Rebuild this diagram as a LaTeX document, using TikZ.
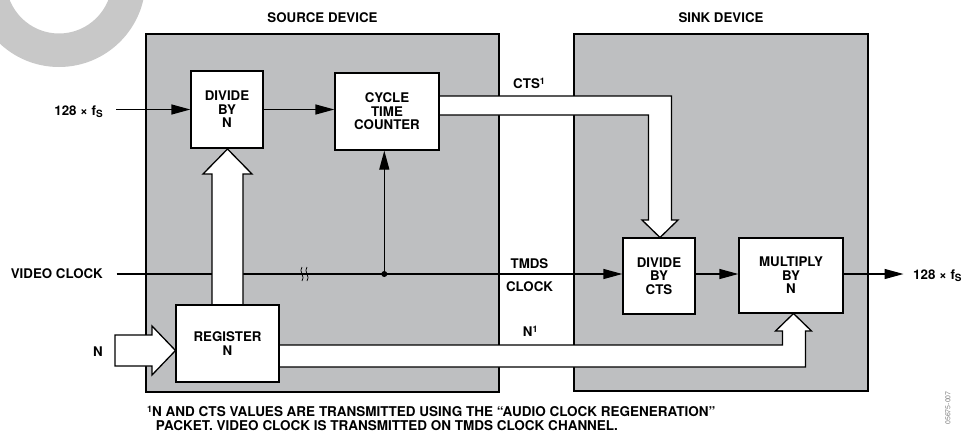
\documentclass[tikz,border=0pt]{standalone}
\usepackage{fontspec}
\setmainfont{TeX Gyre Heros}
\usetikzlibrary{arrows.meta}
\definecolor{devgray}{RGB}{190,191,193}
\definecolor{ringgray}{RGB}{200,200,200}
\pgfdeclarelayer{bg}
\pgfdeclarelayer{fg}
\pgfsetlayers{bg,main,fg}
\newcommand\lbl{\fontsize{13.3}{13.4}\selectfont\bfseries}
\newcommand\fnfont{\fontsize{13.5}{13.3}\selectfont\bfseries}
\newcommand\subS{\raisebox{-2.6pt}{\fontsize{10}{10}\selectfont S}}
\newcommand\supone{\raisebox{4.2pt}{\fontsize{9}{9}\selectfont 1}}
\tikzset{
  blk/.style={draw, line width=1.3pt, fill=white, align=center, inner sep=0pt, font=\lbl},
  devbox/.style={draw, line width=1.3pt, fill=devgray, inner sep=0pt},
  thinln/.style={line width=1.3pt},
  arr/.style={line width=1.3pt, -{Triangle[length=19pt,width=10pt]}},
  fat/.style={draw, line width=1.3pt, fill=white, line join=miter},
  lab/.style={font=\lbl, inner sep=0pt},
}
\begin{document}
\begin{tikzpicture}[x=1pt,y=-1pt]
\useasboundingbox (0,0) rectangle (965,431);
% watermark ring
\begin{scope}
  \clip (0,0) rectangle (965,431);
  \fill[ringgray, even odd rule] (59,-19.5) circle[radius=86.5pt] (59,-19.5) circle[radius=53pt];
\end{scope}
% device boxes
\begin{pgfonlayer}{bg}
  \node[devbox, minimum width=353pt, minimum height=358pt] (src) at (322.5,213) {};
  \node[devbox, minimum width=294pt, minimum height=357pt] (snk) at (721,212.5) {};
\end{pgfonlayer}
\node[lab, anchor=base] (srct) at (src.north |- 0,22) {SOURCE DEVICE};
\node[lab, anchor=base] (snkt) at (snk.north |- 0,22) {SINK DEVICE};
% blocks
\begin{pgfonlayer}{fg}
  \node[blk, minimum width=72pt, minimum height=77pt] (divn) at (227,109.5) {DIVIDE\\BY\\N};
  \node[blk, minimum width=104pt, minimum height=77pt] (ctc) at (387,111.5) {CYCLE\\TIME\\COUNTER};
  \node[blk, minimum width=103pt, minimum height=77pt] (reg) at (227.5,343.5) {REGISTER\\N};
  \node[blk, minimum width=72pt, minimum height=76pt] (divcts) at (659,276) {DIVIDE\\BY\\CTS};
  \node[blk, minimum width=104pt, minimum height=75pt] (mult) at (791,275.5) {MULTIPLY\\BY\\N};
\end{pgfonlayer}
% input / output labels
\node[lab, anchor=base east] (fsin) at (103,115.3) {128 × f\subS};
\node[lab, anchor=base east] (vclab) at (103,278) {VIDEO CLOCK};
\node[lab, anchor=base east] (nlab) at (103,356.3) {N};
\node[lab, anchor=base west] (fsout) at (913,279) {128 × f\subS};
% channel labels
\node[lab, anchor=base west] (ctsl) at (513,88.7) {CTS\supone};
\node[lab, anchor=base] (tmdsl) at (529.5,268.7) {TMDS};
\node[lab, anchor=base] (clockl) at (529.5,291.2) {CLOCK};
\node[lab, anchor=base west] (nl) at (522.7,336.3) {N\supone};
% coordinates
\coordinate (fsstart) at (116,109.5);
\coordinate (vcstart) at (116.5,274);
\coordinate (tap) at (384.3,274);
\coordinate (outend) at (903.5,274);
% thin connectors
\draw[arr] (fsstart) -- (fsstart -| divn.west);
\draw[arr] (divn.east) -- (divn.east -| ctc.west);
\draw[thinln] (vcstart) -- (tap);
\draw[arr] (tap) -- (tap |- ctc.south);
\draw[arr] (tap) -- (tap -| divcts.west);
\draw[arr] (divcts.east |- tap) -- (mult.west |- tap);
\draw[arr] (mult.east |- tap) -- (outend);
\fill (tap) circle[radius=3pt];
% break marks
\draw[line width=0.7pt] (302,267) .. controls (298,271) and (306,277) .. (302,281);
\draw[line width=0.7pt] (307,267) .. controls (303,271) and (311,277) .. (307,281);
% fat arrows
\draw[fat] (212,305) -- (212,174) -- (203,174) -- (227.5,149) -- (252,174) -- (243,174) -- (243,305);
\draw[fat] (115,335) -- (152,335) -- (152,326) -- (175.5,350.5) -- (152,375) -- (152,366) -- (115,366) -- cycle;
\draw[fat] (439,96) -- (671.5,96) -- (671.5,220) -- (678,220) -- (660,237.5) -- (642,220) -- (648.5,220) -- (648.5,115) -- (439,115);
\draw[fat] (279,345) -- (782.5,345) -- (782.5,331) -- (775.5,331) -- (793.5,313.5) -- (811.5,331) -- (805.5,331) -- (805.5,367) -- (279,367);
% footnote
\node[font=\fnfont, anchor=base west, align=left, inner sep=0pt] (fn) at (147,430)
  {\supone N AND CTS VALUES ARE TRANSMITTED USING THE “AUDIO CLOCK REGENERATION”\\
   \hphantom{\supone} PACKET. VIDEO CLOCK IS TRANSMITTED ON TMDS CLOCK CHANNEL.};
% figure code
\node[font=\fontsize{7}{7}\selectfont, text=gray, rotate=90, inner sep=0pt] (code) at (948,408) {05675-007};
\end{tikzpicture}
\end{document}
